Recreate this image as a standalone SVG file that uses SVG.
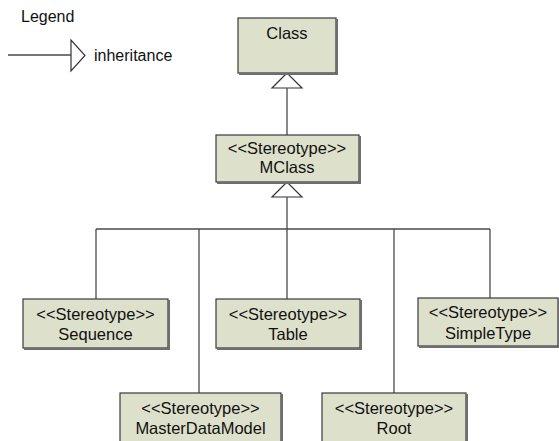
<svg xmlns="http://www.w3.org/2000/svg" width="559" height="441" viewBox="0 0 559 441">
<style>
.box{fill:#dde0ca;stroke:#3a3a3a;stroke-width:1.2}
.sh{fill:none;stroke:#6e6e6e;stroke-width:2}
.t{font-family:"Liberation Sans",Arial,sans-serif;font-size:16.5px;fill:#111;text-anchor:middle}
.lg{font-family:"Liberation Sans",Arial,sans-serif;font-size:16px;fill:#111}
.ln{fill:none;stroke:#4a4a4a;stroke-width:1.3}
.tri{fill:#fff;stroke:#333;stroke-width:1.2}
</style>
<rect width="559" height="441" fill="#fff"/>
<g id="legend">
<text class="lg" x="21" y="22">Legend</text>
<line class="ln" x1="8" y1="55" x2="71" y2="55"/>
<polygon class="tri" points="71,40 71,71 85,55.5"/>
<text class="lg" x="94" y="61">inheritance</text>
</g>
<g id="connectors">
<polygon class="tri" points="287,73 272,88 302,88"/>
<line class="ln" x1="287" y1="88" x2="287" y2="135"/>
<polygon class="tri" points="287,182 272,197 302,197"/>
<line class="ln" x1="287" y1="197" x2="287" y2="299"/>
<line class="ln" x1="96" y1="229" x2="490" y2="229"/>
<line class="ln" x1="96" y1="229" x2="96" y2="299"/>
<line class="ln" x1="199" y1="229" x2="199" y2="393"/>
<line class="ln" x1="394" y1="229" x2="394" y2="393"/>
<line class="ln" x1="490" y1="229" x2="490" y2="298"/>
</g>
<g id="Class">
<rect class="box" x="238" y="18" width="98" height="55"/>
<path class="sh" d="M337,19 V74 H239"/>
<text class="t" x="287" y="39">Class</text>
</g>
<g id="MClass">
<rect class="box" x="216" y="135" width="143" height="47"/>
<path class="sh" d="M360,136 V183 H217"/>
<text class="t" x="287" y="154">&lt;&lt;Stereotype&gt;&gt;</text>
<text class="t" x="287" y="173">MClass</text>
</g>
<g id="Sequence">
<rect class="box" x="23" y="299" width="145" height="49"/>
<path class="sh" d="M169,300 V349 H24"/>
<text class="t" x="95.5" y="320">&lt;&lt;Stereotype&gt;&gt;</text>
<text class="t" x="95.5" y="340">Sequence</text>
</g>
<g id="Table">
<rect class="box" x="216" y="299" width="144" height="49"/>
<path class="sh" d="M361,300 V349 H217"/>
<text class="t" x="288" y="320">&lt;&lt;Stereotype&gt;&gt;</text>
<text class="t" x="288" y="340">Table</text>
</g>
<g id="SimpleType">
<rect class="box" x="418" y="298" width="140" height="48"/>
<path class="sh" d="M559,299 V347 H419"/>
<text class="t" x="488" y="318">&lt;&lt;Stereotype&gt;&gt;</text>
<text class="t" x="488" y="339">SimpleType</text>
</g>
<g id="MasterDataModel">
<rect class="box" x="120" y="393" width="161" height="60"/>
<path class="sh" d="M282,394 V454"/>
<text class="t" x="200.5" y="414">&lt;&lt;Stereotype&gt;&gt;</text>
<text class="t" x="200.5" y="434">MasterDataModel</text>
</g>
<g id="Root">
<rect class="box" x="322" y="393" width="144" height="60"/>
<path class="sh" d="M467,394 V454"/>
<text class="t" x="394" y="414">&lt;&lt;Stereotype&gt;&gt;</text>
<text class="t" x="394" y="434">Root</text>
</g>
</svg>
